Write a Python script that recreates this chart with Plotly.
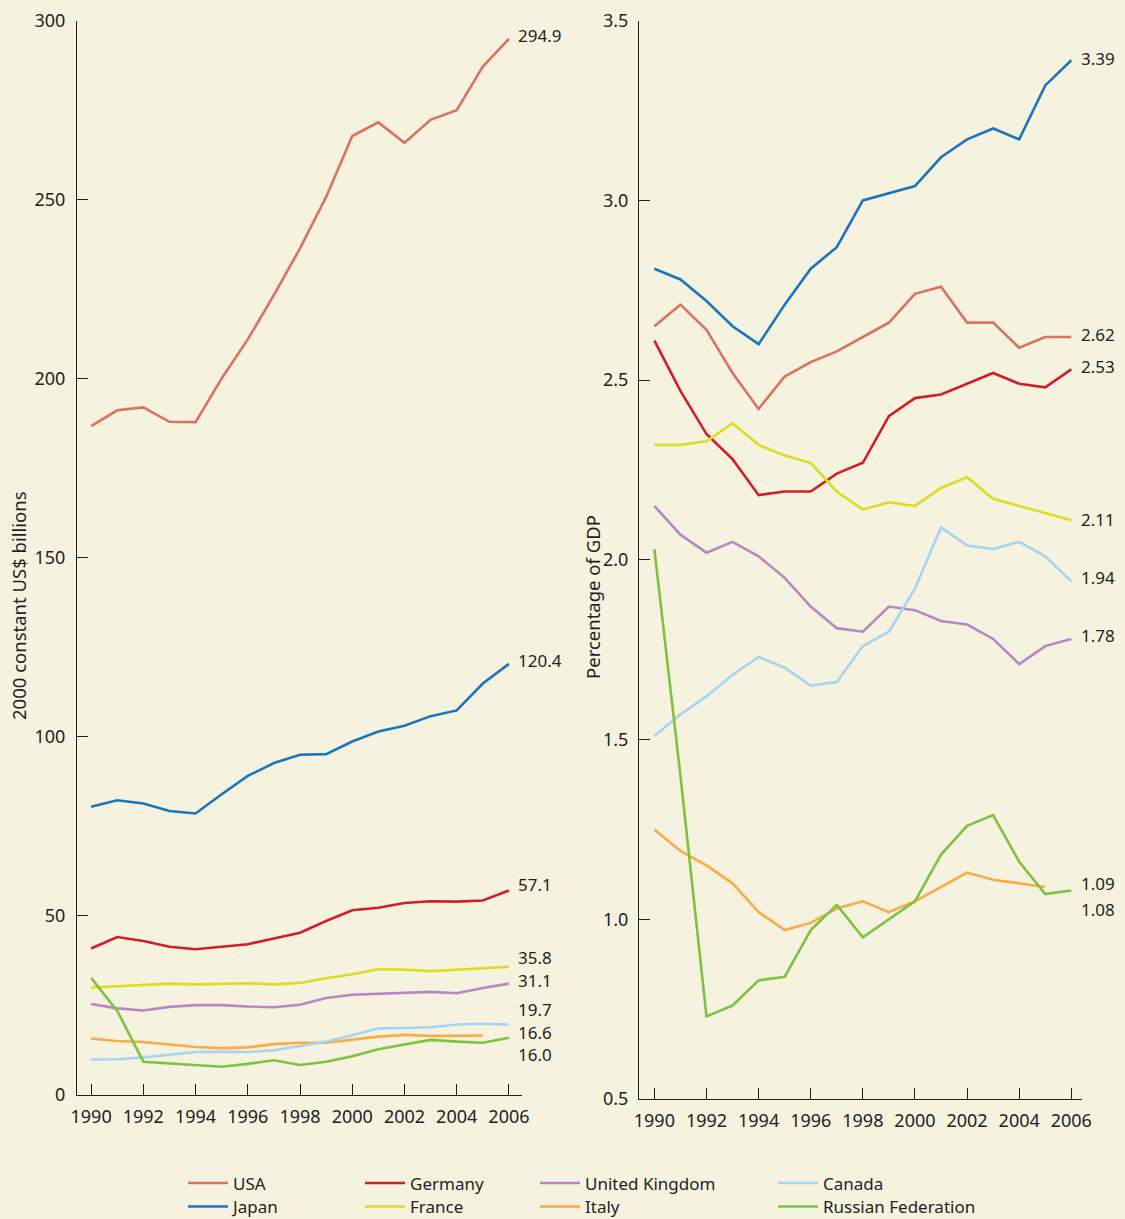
import plotly.graph_objects as go

years = list(range(1990, 2007))
years_italy = list(range(1990, 2006))

# Left panel: 2000 constant US$ billions
usa_b = [186.8, 191.2, 192.0, 188.0, 187.9, 200.1, 211.0, 223.4, 236.4, 250.8, 267.8, 271.6, 265.9, 272.3, 275.0, 287.2, 294.9]
japan_b = [80.5, 82.3, 81.4, 79.3, 78.6, 84.0, 89.1, 92.7, 95.0, 95.2, 98.7, 101.5, 103.1, 105.8, 107.4, 114.9, 120.4]
germany_b = [40.9, 44.1, 43.0, 41.4, 40.7, 41.5, 42.1, 43.7, 45.3, 48.6, 51.6, 52.3, 53.6, 54.1, 54.0, 54.3, 57.1]
france_b = [30.0, 30.4, 30.9, 31.1, 30.9, 31.1, 31.2, 30.9, 31.3, 32.6, 33.7, 35.1, 35.0, 34.6, 35.0, 35.2, 35.8]
uk_b = [25.4, 24.2, 23.6, 24.6, 25.1, 25.1, 24.7, 24.5, 25.2, 27.1, 28.0, 28.3, 28.6, 28.8, 28.4, 29.9, 31.1]
canada_b = [9.9, 10.0, 10.5, 11.2, 12.0, 12.1, 12.0, 12.5, 13.7, 14.9, 16.7, 18.6, 18.7, 18.9, 19.7, 19.9, 19.7]
italy_b = [15.8, 15.1, 14.8, 14.0, 13.4, 13.1, 13.3, 14.2, 14.6, 14.6, 15.4, 16.3, 16.8, 16.5, 16.5, 16.6]
russia_b = [32.7, 23.5, 9.3, 8.8, 8.4, 7.9, 8.7, 9.7, 8.4, 9.3, 10.8, 12.8, 14.1, 15.4, 14.9, 14.6, 16.0]

# Right panel: percentage of GDP
usa_p = [2.65, 2.71, 2.64, 2.52, 2.42, 2.51, 2.55, 2.58, 2.62, 2.66, 2.74, 2.76, 2.66, 2.66, 2.59, 2.62, 2.62]
japan_p = [2.81, 2.78, 2.72, 2.65, 2.60, 2.71, 2.81, 2.87, 3.00, 3.02, 3.04, 3.12, 3.17, 3.20, 3.17, 3.32, 3.39]
germany_p = [2.61, 2.47, 2.35, 2.28, 2.18, 2.19, 2.19, 2.24, 2.27, 2.40, 2.45, 2.46, 2.49, 2.52, 2.49, 2.48, 2.53]
france_p = [2.32, 2.32, 2.33, 2.38, 2.32, 2.29, 2.27, 2.19, 2.14, 2.16, 2.15, 2.20, 2.23, 2.17, 2.15, 2.13, 2.11]
uk_p = [2.15, 2.07, 2.02, 2.05, 2.01, 1.95, 1.87, 1.81, 1.80, 1.87, 1.86, 1.83, 1.82, 1.78, 1.71, 1.76, 1.78]
canada_p = [1.51, 1.57, 1.62, 1.68, 1.73, 1.70, 1.65, 1.66, 1.76, 1.80, 1.92, 2.09, 2.04, 2.03, 2.05, 2.01, 1.94]
italy_p = [1.25, 1.19, 1.15, 1.10, 1.02, 0.97, 0.99, 1.03, 1.05, 1.02, 1.05, 1.09, 1.13, 1.11, 1.10, 1.09]
russia_p = [2.03, 1.40, 0.73, 0.76, 0.83, 0.84, 0.97, 1.04, 0.95, 1.00, 1.05, 1.18, 1.26, 1.29, 1.16, 1.07, 1.08]

left_ticks = [0, 50, 100, 150, 200, 250, 300]
right_ticks = [0.5, 1.0, 1.5, 2.0, 2.5, 3.0, 3.5]
x_ticks = list(range(1990, 2007, 2))

names = ["USA", "Japan", "Germany", "France", "United Kingdom", "Italy", "Canada", "Russian Federation"]
colors = {
    "USA": "#D9735F",
    "Japan": "#1B75BC",
    "Germany": "#D01F29",
    "France": "#D9DE21",
    "United Kingdom": "#B887C3",
    "Italy": "#FAAB45",
    "Canada": "#A9D4EF",
    "Russian Federation": "#7EC242",
}
left_data = {"USA": usa_b, "Japan": japan_b, "Germany": germany_b, "France": france_b,
             "United Kingdom": uk_b, "Italy": italy_b, "Canada": canada_b, "Russian Federation": russia_b}
right_data = {"USA": usa_p, "Japan": japan_p, "Germany": germany_p, "France": france_p,
              "United Kingdom": uk_p, "Italy": italy_p, "Canada": canada_p, "Russian Federation": russia_p}

# legend layout: one legend per entry, in a 4-column x 2-row grid (pixel positions)
legend_ids = {"USA": "legend", "Japan": "legend2", "Germany": "legend3", "France": "legend4",
              "United Kingdom": "legend5", "Italy": "legend6", "Canada": "legend7",
              "Russian Federation": "legend8"}
legend_pos = {"USA": (183, 0), "Japan": (183, 1), "Germany": (360, 0), "France": (360, 1),
              "United Kingdom": (535, 0), "Italy": (535, 1), "Canada": (773, 0),
              "Russian Federation": (773, 1)}
row_top_px = [1165.5, 1189]

# label offsets (px) for end-of-line value labels
left_label_shift = {"USA": 3, "Japan": 3, "Germany": 6, "France": 9, "United Kingdom": 3,
                    "Canada": 14.5, "Italy": 3.5, "Russian Federation": -17}
right_label_shift = {"USA": 3, "Japan": 2, "Germany": 3, "France": 1, "United Kingdom": 3,
                     "Canada": 4, "Italy": 3, "Russian Federation": -19}

BG = "#F5F2DF"
INK = "#231F20"
FONT = "Noto Sans"
W, H = 1125, 1219

fig = go.Figure()
for n in names:
    xs = years_italy if n == "Italy" else years
    fig.add_trace(go.Scatter(x=xs, y=left_data[n], mode="lines", name=n,
                             line=dict(color=colors[n], width=2.6),
                             xaxis="x", yaxis="y", legend=legend_ids[n], showlegend=True))
for n in names:
    xs = years_italy if n == "Italy" else years
    fig.add_trace(go.Scatter(x=xs, y=right_data[n], mode="lines", name=n,
                             line=dict(color=colors[n], width=2.6),
                             xaxis="x2", yaxis="y2", showlegend=False))

annotations = []
for n in names:
    xs = years_italy if n == "Italy" else years
    v = left_data[n][-1]
    annotations.append(dict(x=xs[-1], y=v, xref="x", yref="y", text=f"{v:.1f}",
                            xanchor="left", yanchor="middle", showarrow=False,
                            xshift=7 + (26 if n == "Italy" else 0), yshift=left_label_shift[n],
                            font=dict(family=FONT, size=17, color=INK)))
    v2 = right_data[n][-1]
    annotations.append(dict(x=xs[-1], y=v2, xref="x2", yref="y2", text=f"{v2:.2f}",
                            xanchor="left", yanchor="middle", showarrow=False,
                            xshift=8 + (26 if n == "Italy" else 0), yshift=right_label_shift[n],
                            font=dict(family=FONT, size=17, color=INK)))

annotations.append(dict(x=18 / W, y=1 - 606 / H, xref="paper", yref="paper",
                        text="2000 constant US$ billions", textangle=-90, showarrow=False,
                        xanchor="center", yanchor="middle", font=dict(family=FONT, size=18.5, color=INK)))
annotations.append(dict(x=592 / W, y=1 - 597 / H, xref="paper", yref="paper",
                        text="Percentage of GDP", textangle=-90, showarrow=False,
                        xanchor="center", yanchor="middle", font=dict(family=FONT, size=18.5, color=INK)))

axis_common = dict(showline=True, linecolor=INK, linewidth=1.2, ticks="inside", ticklen=11,
                   tickcolor=INK, tickwidth=1.2, showgrid=False, zeroline=False, automargin=False,
                   tickfont=dict(family=FONT, size=18, color=INK))

top_px = 20.7
ydom_left = [1 - 1095 / H, 1 - top_px / H]
ydom_right = [1 - 1099 / H, 1 - top_px / H]

fig.update_layout(
    width=W, height=H,
    paper_bgcolor=BG, plot_bgcolor=BG,
    margin=dict(l=0, r=0, t=0, b=0, autoexpand=False),
    showlegend=True,
    xaxis=dict(domain=[77 / W, 522 / W], range=[1989.46, 2006.5], tickvals=x_ticks,
               ticklabelstandoff=5, anchor="y", **axis_common),
    yaxis=dict(domain=ydom_left, range=[0, 300], tickvals=left_ticks, ticklabelstandoff=7,
               anchor="x", **axis_common),
    xaxis2=dict(domain=[639 / W, 1082 / W], range=[1989.41, 2006.41], tickvals=x_ticks,
                ticklabelstandoff=5, anchor="y2", **axis_common),
    yaxis2=dict(domain=ydom_right, range=[0.5, 3.5], tickvals=right_ticks, tickformat=".1f",
                ticklabelstandoff=6, anchor="x2", **axis_common),
    annotations=annotations,
)

legends = {}
for n in names:
    px, row = legend_pos[n]
    legends[legend_ids[n]] = dict(
        orientation="v", xanchor="left", yanchor="top", bgcolor="rgba(0,0,0,0)",
        font=dict(family=FONT, size=17, color=INK), itemwidth=40,
        x=px / W, y=1 - row_top_px[row] / H)
fig.update_layout(**legends)

page_fix = ("document.documentElement.style.margin='0';document.body.style.margin='0';"
            "document.body.style.padding='0';document.body.style.background='" + BG + "';"
            "document.documentElement.style.background='" + BG + "';")

fig.write_html("out.html", post_script=page_fix, config={"displayModeBar": False})
